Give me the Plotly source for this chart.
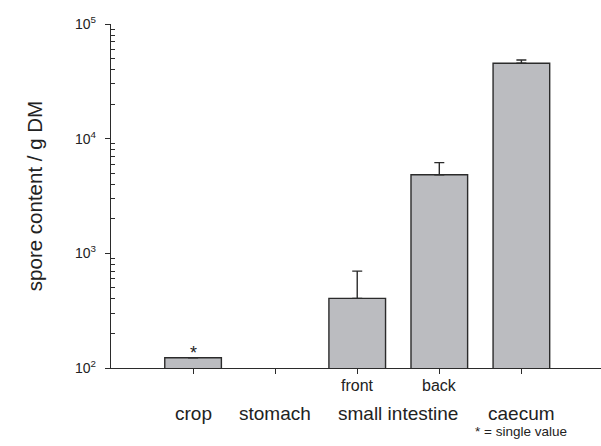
import plotly.graph_objects as go
import numpy as np

positions = [0, 1, 2, 3, 4]
values = [123, None, 405, 4850, 45400]
err_plus = [0, 0, 295, 1330, 3100]
err_visible = [False, False, True, True, True]

sub_labels = ["", "", "front", "back", ""]
main_labels = ["crop", "stomach", "small intestine", "", "caecum"]
main_label_x = [0, 1, 2.5, None, 4]

ytickvals = [1e2, 1e3, 1e4, 1e5]
yticktext = ["10<sup>2</sup>", "10<sup>3</sup>", "10<sup>4</sup>", "10<sup>5</sup>"]

FONT = "Liberation Sans, Arial, sans-serif"
DARK = "#2b2b2b"
TXT = "#222222"

ep = [e if v else 0 for e, v in zip(err_plus, err_visible)]

fig = go.Figure()
fig.add_trace(go.Bar(
    x=positions, y=values, width=0.69,
    marker=dict(color="#bbbcc0", line=dict(color=DARK, width=1.4)),
    error_y=dict(type="data", array=ep, arrayminus=[0]*5, symmetric=False,
                 color=DARK, thickness=1.4, width=5),
    showlegend=False, hoverinfo="skip",
))

annotations = []
for x, s in zip(positions, sub_labels):
    if s:
        annotations.append(dict(x=x, y=0, xref="x", yref="paper", yanchor="middle",
                                yshift=-17, text=s, showarrow=False,
                                font=dict(family=FONT, size=16, color=TXT)))
for x, s in zip(main_label_x, main_labels):
    if s:
        annotations.append(dict(x=x, y=0, xref="x", yref="paper", yanchor="middle",
                                yshift=-45, text=s, showarrow=False,
                                font=dict(family=FONT, size=19, color=TXT)))
annotations.append(dict(x=0, y=np.log10(values[0]), xref="x", yref="y", yanchor="bottom",
                        yshift=-7, text="*", showarrow=False,
                        font=dict(family=FONT, size=18, color=TXT)))
annotations.append(dict(x=4, y=0, xref="x", yref="paper", yanchor="middle", xanchor="center",
                        yshift=-63, text="* = single value", showarrow=False,
                        font=dict(family=FONT, size=13.5, color=TXT)))

minor_vals = [m * 10**d for d in range(2, 5) for m in range(2, 10)]

fig.update_layout(
    width=601, height=446,
    margin=dict(l=111, r=0, t=24, b=78),
    paper_bgcolor="white", plot_bgcolor="white",
    font=dict(family=FONT, size=14, color=TXT),
    annotations=annotations,
    xaxis=dict(range=[-1, 4.97], tickvals=positions, ticktext=[""]*5,
               ticks="outside", ticklen=5, tickcolor=DARK, tickwidth=1.4,
               showline=True, linecolor=DARK, linewidth=1.4,
               showgrid=False, zeroline=False, fixedrange=True),
    yaxis=dict(type="log", range=[2, 5], tickvals=ytickvals, ticktext=yticktext,
               ticks="outside", ticklen=5, tickcolor=DARK, tickwidth=1.4,
               ticklabelstandoff=6,
               showline=True, linecolor=DARK, linewidth=1.4,
               showgrid=False, zeroline=False,
               tickfont=dict(family=FONT, size=14, color=TXT),
               title=dict(text="spore content / g DM", standoff=26,
                          font=dict(family=FONT, size=20.5, color=TXT)),
               minor=dict(tickmode="array", tickvals=minor_vals, ticks="inside",
                          ticklen=4, tickcolor=DARK, tickwidth=1.2, showgrid=False)),
)

fig.write_html("out.html", config={"displayModeBar": False},
               post_script="document.body.style.margin='0';document.body.style.padding='0';document.body.style.overflow='hidden';")
